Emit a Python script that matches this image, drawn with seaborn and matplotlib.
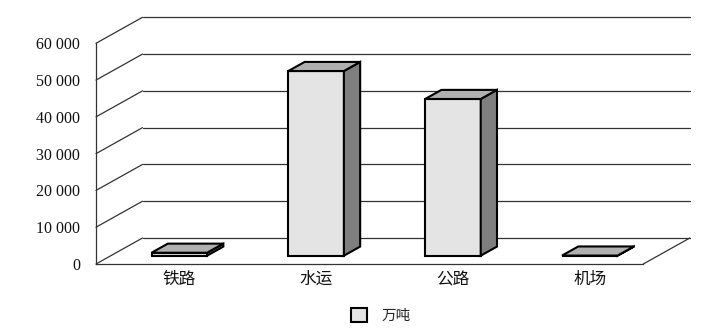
import numpy as np
import pandas as pd
import matplotlib
matplotlib.use("Agg")
import matplotlib.pyplot as plt
import seaborn as sns
from matplotlib.patches import Polygon
from matplotlib.lines import Line2D

# ---- data ----
categories = ["铁路", "水运", "公路", "机场"]
values = [800, 50200, 42600, 30]
series_name = "万吨"
yticks = [0, 10000, 20000, 30000, 40000, 50000, 60000]
ytick_labels = ["0", "10 000", "20 000", "30 000", "40 000", "50 000", "60 000"]

# ---- style ----
sns.set_theme(style="white")
plt.rcParams["font.family"] = ["Noto Sans CJK SC", "DejaVu Sans"]

W, H = 719, 333
fig = plt.figure(figsize=(W / 100, H / 100), dpi=100)
fig.patch.set_facecolor("white")

# front plane of the 3D box, in pixels
left_px, right_px = 96.0, 643.3
bottom_px, top_px = 264.0, 43.3
ax = fig.add_axes([left_px / W, (H - bottom_px) / H,
                   (right_px - left_px) / W, (bottom_px - top_px) / H])

df = pd.DataFrame({"cat": categories, "val": values,
                   "unit": [series_name] * len(categories)})
sns.barplot(data=df, x="cat", y="val", hue="unit", palette=["#e4e4e4"],
            width=0.406, saturation=1, edgecolor="black", linewidth=1.5,
            ax=ax, zorder=3, legend=True)

ax.set_xlim(-0.5, 3.5)
ax.set_ylim(0, 60000)
ax.set_xlabel("")
ax.set_ylabel("")

# depth of the box in data units
px_per_x = (right_px - left_px) / 4.0
px_per_y = (bottom_px - top_px) / 60000.0
DX = 46.5 / px_per_x
DY = 26.0 / px_per_y
f0 = 0.32   # front of bars (fraction of depth)
fd = 0.35   # bar depth (fraction of depth)

line_kw = dict(color="#333333", lw=0.9, clip_on=False, zorder=1)
# walls & gridlines
for t in yticks:
    ax.add_line(Line2D([-0.5, -0.5 + DX], [t, t + DY], **line_kw))
    ax.add_line(Line2D([-0.5 + DX, 3.5 + DX], [t + DY, t + DY], **line_kw))
# floor right edge
ax.add_line(Line2D([3.5, 3.5 + DX], [0, DY], **line_kw))

# 3D bars from the seaborn bar patches
bar_patches = [p for c in ax.containers for p in c.patches]
for p in bar_patches:
    w = p.get_width()
    h = p.get_height()
    x0 = p.get_x() + f0 * DX
    y0 = f0 * DY
    p.set_x(x0)
    p.set_y(y0)
    p.set_clip_on(False)
    ddx, ddy = fd * DX, fd * DY
    top = Polygon([(x0, y0 + h), (x0 + w, y0 + h),
                   (x0 + w + ddx, y0 + h + ddy), (x0 + ddx, y0 + h + ddy)],
                  closed=True, facecolor="#b0b0b0", edgecolor="black",
                  linewidth=1.5, joinstyle="miter", zorder=3, clip_on=False)
    side = Polygon([(x0 + w, y0), (x0 + w + ddx, y0 + ddy),
                    (x0 + w + ddx, y0 + h + ddy), (x0 + w, y0 + h)],
                   closed=True, facecolor="#7f7f7f", edgecolor="black",
                   linewidth=1.5, joinstyle="miter", zorder=3, clip_on=False)
    ax.add_patch(side)
    ax.add_patch(top)

# spines
for s in ["top", "right"]:
    ax.spines[s].set_visible(False)
for s in ["left", "bottom"]:
    ax.spines[s].set_color("#333333")
    ax.spines[s].set_linewidth(0.9)

ax.set_yticks(yticks)
ax.set_yticklabels(ytick_labels, fontfamily="Liberation Serif", fontsize=11.5,
                   color="#111111")
ax.set_xticks([i + f0 * DX for i in range(len(categories))])
ax.set_xticklabels(categories, fontsize=12, color="#111111")
ax.tick_params(axis="y", length=0, pad=11.5)
ax.tick_params(axis="x", length=0, pad=5)
ax.grid(False)

sns.move_legend(ax, loc="center", bbox_to_anchor=(0.5207, -0.231), title=None,
                frameon=False, fontsize=10.5, handlelength=1.1, handleheight=1.1,
                handletextpad=1.0, borderpad=0)

fig.savefig("out.png", dpi=100, facecolor="white")
